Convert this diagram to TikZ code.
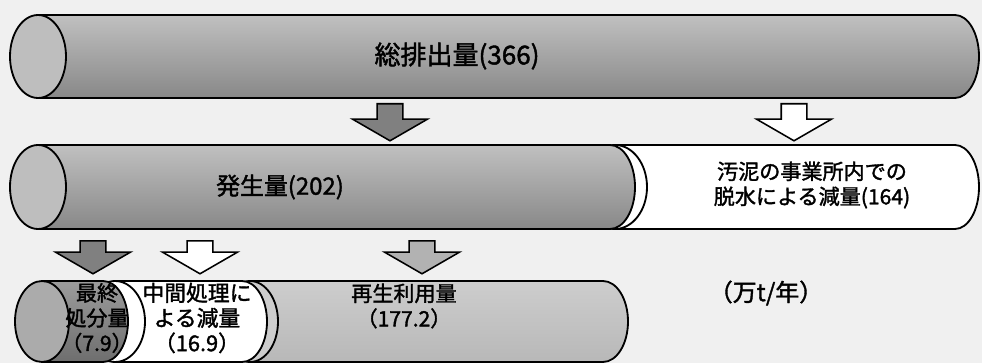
\documentclass[tikz,border=0pt]{standalone}
\usepackage{fontspec}
\setmainfont{Noto Sans CJK JP}
\newfontfamily\jpmed{Noto Sans CJK JP}[FakeBold=1.6]
\usetikzlibrary{shapes.arrows}
\definecolor{paper}{HTML}{F0F0F0}
\definecolor{tubetop}{HTML}{C0C0C0}
\definecolor{tubebot}{HTML}{888888}
\definecolor{facegray}{HTML}{BEBEBE}
\definecolor{darktop}{HTML}{9C9C9C}
\definecolor{darkbot}{HTML}{6E6E6E}
\definecolor{lighttop}{HTML}{CDCDCD}
\definecolor{lightbot}{HTML}{B8B8B8}
\begin{document}
\begin{tikzpicture}[x=0.025cm, y=0.025cm,
  outline/.style={draw=black, line width=1.3pt},
  downarrow/.style={single arrow, draw=black, line width=1.1pt, rotate=-90, anchor=tail,
    inner xsep=0pt, inner ysep=0.3cm, single arrow head extend=0.62cm, single arrow tip angle=120},
  txt/.style={font=\jpmed\fontsize{15}{17.8}\selectfont, align=center, inner sep=0pt}]
\fill[paper] (0,0) rectangle (982,363);
\useasboundingbox (0,0) rectangle (982,363);
% total
\path[outline, top color=tubetop, bottom color=tubebot] (38,348) -- (955,348) arc[start angle=90, end angle=-90, x radius=24, y radius=41.5] -- (38,265) -- cycle;
\draw[outline, fill=facegray] (38,306.5) ellipse[x radius=28, y radius=41.5];
\node[txt, font=\jpmed\fontsize{18.5}{21}\selectfont] (total) at (457,307) {総排出量(366)};
% arrows
\node[downarrow, fill=gray, minimum height=0.925cm] (a1) at (390,260) {};
\node[downarrow, fill=white, minimum height=0.925cm] (a2) at (794,260) {};
% generated
\path[outline, fill=white] (615,218) -- (955,218) arc[start angle=90, end angle=-90, x radius=24, y radius=42] -- (615,134) -- cycle;
\draw[outline, fill=white] (615,176) ellipse[x radius=32, y radius=42];
\path[outline, top color=tubetop, bottom color=tubebot] (38,218) -- (610,218) arc[start angle=90, end angle=-90, x radius=25, y radius=42] -- (38,134) -- cycle;
\draw[outline, fill=facegray] (38,176) ellipse[x radius=28, y radius=42];
\node[txt, font=\jpmed\fontsize{17}{20}\selectfont] (gen) at (280,176) {発生量(202)};
\node[txt] (dewater) at (812,178) {汚泥の事業所内での\\脱水による減量(164)};
% arrows
\node[downarrow, fill=gray, minimum height=0.825cm] (a3) at (93,123) {};
\node[downarrow, fill=white, minimum height=0.825cm] (a4) at (200,123) {};
\node[downarrow, fill=gray!60, minimum height=0.825cm] (a5) at (422,123) {};
% bottom
\path[outline, top color=lighttop, bottom color=lightbot] (250,82) -- (603,82) arc[start angle=90, end angle=-90, x radius=25, y radius=40.5] -- (250,1) -- cycle;
\draw[outline, fill=lighttop] (250,41.5) ellipse[x radius=28, y radius=40.5];
\path[outline, fill=white] (115,82) -- (242,82) arc[start angle=90, end angle=-90, x radius=25, y radius=40.5] -- (115,1) -- cycle;
\draw[outline, fill=white] (115,41.5) ellipse[x radius=30, y radius=40.5];
\path[outline, top color=darktop, bottom color=darkbot] (42,82) -- (103,82) arc[start angle=90, end angle=-90, x radius=25, y radius=40.5] -- (42,1) -- cycle;
\draw[outline, fill=facegray!90!black] (42,41.5) ellipse[x radius=27, y radius=40.5];
\node[txt] (final) at (97,45) {最終\\処分量\\（7.9）};
\node[txt, font=\jpmed\fontsize{15.5}{17.8}\selectfont] (mid) at (197,45) {中間処理に\\よる減量\\（16.9）};
\node[txt] (recycle) at (404,57) {再生利用量\\（177.2）};
\node[txt, font=\jpmed\fontsize{17}{20}\selectfont] (unit) at (766,70) {（万t/年）};
\end{tikzpicture}
\end{document}
